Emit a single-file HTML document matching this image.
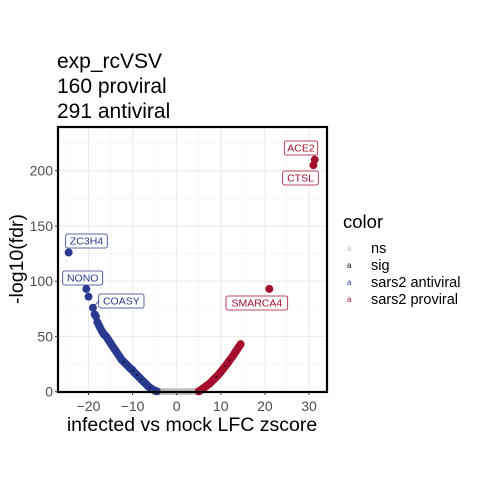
<!DOCTYPE html>
<html><head><meta charset="utf-8">
<style>
html,body{margin:0;padding:0;background:#fff;}
svg{display:block;font-family:"Liberation Sans",sans-serif;}
</style></head>
<body>
<svg id="chart" width="480" height="480" xmlns="http://www.w3.org/2000/svg">
  <g font-size="21" fill="#000">
    <text x="57" y="68">exp_rcVSV</text>
    <text x="57" y="93">160 proviral</text>
    <text x="57" y="118">291 antiviral</text>
  </g>
  <rect x="58" y="127" width="269" height="265" fill="#fff"/>
  <g id="grid"></g>
  <g id="marks"></g>
  <g id="labels"></g>
  <rect x="58" y="127" width="269" height="265" fill="none" stroke="#000" stroke-width="2.2"/>
  <g id="ticks"></g>
  <text x="192" y="431" font-size="19.5" text-anchor="middle">infected vs mock LFC zscore</text>
  <text transform="translate(23,259) rotate(-90)" font-size="19.5" text-anchor="middle">-log10(fdr)</text>
  <g>
    <text x="343" y="228" font-size="18.5">color</text>
    <g><text x="347" y="251" font-size="8" fill="#bebebe">a</text><text x="371" y="253" font-size="14.5">ns</text></g>
    <g><text x="347" y="268" font-size="8" fill="#000">a</text><text x="371" y="270" font-size="14.5">sig</text></g>
    <g><text x="347" y="285" font-size="8" fill="#2b3990">a</text><text x="371" y="287" font-size="14.5">sars2 antiviral</text></g>
    <g><text x="347" y="302" font-size="8" fill="#a50f2d">a</text><text x="371" y="304" font-size="14.5">sars2 proviral</text></g>
  </g>
</svg>
<script>
const xTicks = [-20,-10,0,10,20,30];
const yTicks = [0,50,100,150,200];
const antiX = [-18.6,-18.3,-18,-17.75,-17.5,-17.25,-17,-16.75,-16.5,-16.25,-16,-15.75,-15.5,-15.25,-15,-14.75,-14.5,-14.25,-14,-13.75,-13.5,-13.25,-13,-12.75,-12.5,-12.25,-12,-11.75,-11.5,-11.25,-11,-10.75,-10.5,-10.25,-10,-9.75,-9.5,-9.25,-9,-8.75,-8.5,-8.25,-8,-7.75,-7.5,-7.25,-7,-6.75,-6.5,-6.25,-6,-5.75,-5.5,-5.25,-5,-4.75,-4.5];
const antiY = [70,68,63,61,59,57,55,53.5,52,51,50,48.5,47,45.5,44,42.5,41,39.5,38,36.5,35,33.5,32,30.5,29,28,27,26,25,24,23,22,21,20,19.5,18,17,16,15,14,13,12,11,10,9,8,7,6,5,4.2,3.5,2.7,2,1.5,1,0.6,0.3];
const proX = [5,5.25,5.5,5.75,6,6.25,6.5,6.75,7,7.25,7.5,7.75,8,8.25,8.5,8.75,9,9.25,9.5,9.75,10,10.25,10.5,10.75,11,11.25,11.5,11.75,12,12.25,12.5,12.75,13,13.25,13.5,13.75,14,14.25,14.5];
const proY = [0.3,0.9,1.5,2.2,3,3.7,4.5,5.2,6,6.7,7.5,8.5,9.5,10.5,11.5,12.5,13.5,14.5,15.5,16.8,18,19.2,20.5,21.8,23,24.2,25.5,27,28.5,29.8,31,32.5,34,35.5,37,38.5,40,41.5,43];
const nsX = [-4.5,-4,-3,-2,-1,0,1,2,3,4,4.5,5];
const nsY = [0.4,0.3,0.2,0.1,0.05,0,0.05,0.1,0.2,0.3,0.5,0.7];
const sigX = [-12,-10,-9,-8,-6,9,11,12];
const sigY = [27,19,15,11,3.5,13.5,23,28.5];
const hiNames = ["ZC3H4","NONO","","COASY","SMARCA4","ACE2","CTSL"];
const hiX = [-24.5,-20.5,-20,-19,21,31.3,31];
const hiY = [126,93,86,76,93,210,205];
const hiCol = ["#2b3990","#2b3990","#2b3990","#2b3990","#a50f2d","#a50f2d","#a50f2d"];

const X0=58,X1=327,Y0=127,Y1=392;
const sx = v => 176.7 + v*4.41;
const sy = v => 391.7 - v*1.105;
const NS="http://www.w3.org/2000/svg";
function mk(tag, attrs, parent){const e=document.createElementNS(NS,tag);for(const k in attrs)e.setAttribute(k,attrs[k]);parent.appendChild(e);return e;}
const grid=document.getElementById('grid'), ticks=document.getElementById('ticks'), marks=document.getElementById('marks'), labels=document.getElementById('labels');
for(let i=0;i<xTicks.length;i++){
  const x=sx(xTicks[i]);
  const g=mk('line',{x1:x,x2:x,y1:Y0,y2:Y1,stroke:'#ebebeb','stroke-width':1.1},grid);
  
  
  const xm=sx(xTicks[i]-5);
  if(xm>X0) mk('line',{x1:xm,x2:xm,y1:Y0,y2:Y1,stroke:'#f2f2f2','stroke-width':0.6},grid);
  const t=mk('text',{x:x,y:411,'font-size':14,fill:'#4d4d4d','text-anchor':'middle'},ticks);
  t.textContent=String(xTicks[i]).replace('-','\u2212');
  
  
  mk('line',{x1:x,x2:x,y1:Y1,y2:Y1+3,stroke:'#333'},ticks);
}
{const xm=sx(35); if(xm<X1) mk('line',{x1:xm,x2:xm,y1:Y0,y2:Y1,stroke:'#f2f2f2','stroke-width':0.6},grid);}
for(let i=0;i<yTicks.length;i++){
  const y=sy(yTicks[i]);
  const g=mk('line',{x1:X0,x2:X1,y1:y,y2:y,stroke:'#ebebeb','stroke-width':1.1},grid);
  
  
  const ym=sy(yTicks[i]+25);
  if(ym>Y0) mk('line',{x1:X0,x2:X1,y1:ym,y2:ym,stroke:'#f2f2f2','stroke-width':0.6},grid);
  const t=mk('text',{x:53,y:y+5,'font-size':14,fill:'#4d4d4d','text-anchor':'end'},ticks);
  t.textContent=yTicks[i];
  
  
  mk('line',{x1:X0-3,x2:X0,y1:y,y2:y,stroke:'#333'},ticks);
}
function dots(xs,ys,col,r,name){
  for(let i=0;i<xs.length;i++){
    const c=mk('circle',{cx:sx(xs[i]),cy:sy(ys[i]),r:r,fill:col},marks);
    
    
  }
}
dots(nsX,nsY,'#bebebe',3.6,'ns-point');
dots(antiX,antiY,'#2b3990',4,'antiviral-point');
dots(proX,proY,'#a50f2d',4,'proviral-point');
dots(sigX,sigY,'#000',0.8,'sig-point');
for(let i=0;i<hiX.length;i++){
  const c=mk('circle',{cx:sx(hiX[i]),cy:sy(hiY[i]),r:4,fill:hiCol[i]},marks);
  
  
}
const boxes={ZC3H4:[65.7,234,41.6,14],NONO:[62.7,271,40,14],COASY:[98.7,294,45.3,14],SMARCA4:[226,296,61.7,14],ACE2:[284.3,141,33.4,14],CTSL:[282.7,171,35.6,14]};
for(let i=0;i<hiNames.length;i++){
  const n=hiNames[i]; if(!n) continue;
  const b=boxes[n];
  const g=mk('g',{},labels);
  
  
  if(n==='COASY') mk('line',{x1:sx(hiX[i]),y1:sy(hiY[i]),x2:b[0],y2:b[1]+b[3]/2,stroke:hiCol[i],'stroke-width':0.8},g);
  mk('rect',{x:b[0],y:b[1],width:b[2],height:b[3],rx:2,fill:'#fff',stroke:hiCol[i],'stroke-width':0.8},g);
  const t=mk('text',{x:b[0]+b[2]/2,y:b[1]+10.5,'font-size':10.5,fill:hiCol[i],'text-anchor':'middle'},g);
  t.textContent=n;
}
</script>
</body></html>
